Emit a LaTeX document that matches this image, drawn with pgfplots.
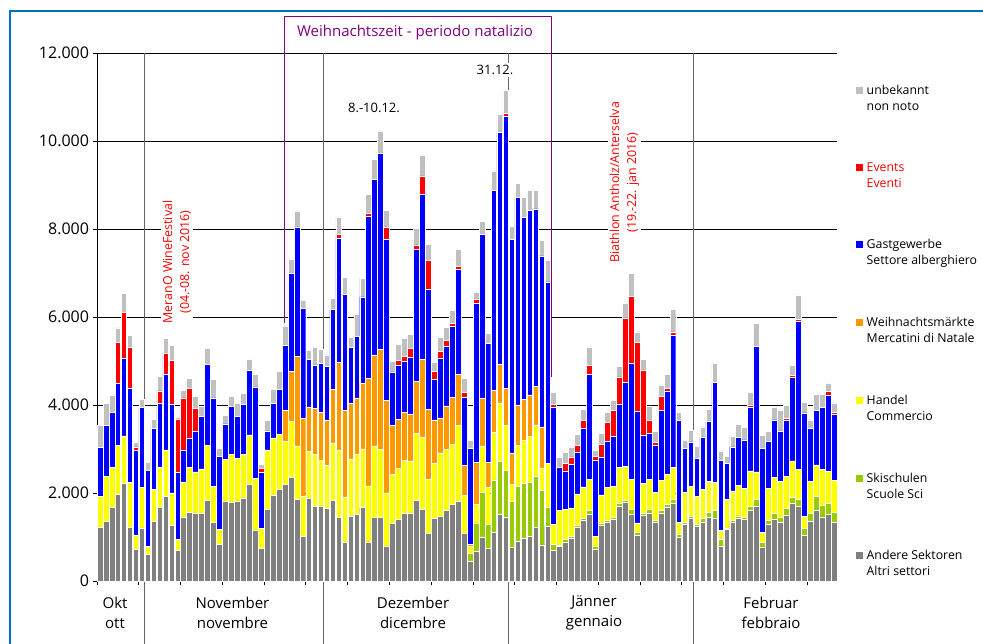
\documentclass[border=0pt]{standalone}
\usepackage{pgfplots}
\pgfplotsset{compat=1.18}
\usepackage{pgfplotstable}
\usepackage{fontspec}
\setmainfont{Open Sans}
\definecolor{cAndere}{RGB}{128,128,128}
\definecolor{cSki}{RGB}{153,204,0}
\definecolor{cHandel}{RGB}{255,255,0}
\definecolor{cMarkt}{RGB}{255,153,0}
\definecolor{cGast}{RGB}{0,0,255}
\definecolor{cEvent}{RGB}{255,0,0}
\definecolor{cUnb}{RGB}{192,192,192}
\definecolor{cPurple}{RGB}{128,0,128}
\definecolor{cFrame}{RGB}{0,112,192}
\definecolor{cSep}{RGB}{100,100,100}
% x a=Andere s=Ski h=Handel m=Markte g=Gast e=Events u=unbekannt
\pgfplotstableread{
x a s h m g e u
0 1220 0 700 0 1110 0 500
1 1360 0 1010 0 1170 0 490
2 1670 0 920 0 1250 0 390
3 1970 0 1120 0 1400 930 330
4 2220 0 1080 0 1770 1040 430
5 1220 0 1020 0 2140 930 280
6 720 0 330 0 1920 80 110
7 1210 0 920 0 1810 0 180
8 610 0 170 0 1730 0 200
9 1350 0 740 0 1380 0 210
10 1670 0 920 0 1440 290 330
11 1920 0 1060 0 1720 480 340
12 1270 0 730 0 2010 1010 330
13 690 0 260 0 1520 1210 50
14 1460 0 790 0 730 1180 170
15 1560 0 1020 0 670 1130 230
16 1550 0 930 0 920 520 280
17 1540 0 1010 0 1190 0 240
18 1840 0 1240 0 1850 0 360
19 1330 0 820 0 2010 0 420
20 830 0 340 0 1670 0 170
21 1820 0 950 0 800 0 190
22 1800 0 1070 0 1100 0 230
23 1820 0 970 0 950 0 290
24 1890 0 990 0 1140 0 250
25 2210 0 1110 0 1460 0 270
26 1160 0 1170 0 2080 0 280
27 740 0 450 0 1280 90 90
28 1630 0 1350 0 430 0 240
29 1960 0 1290 0 780 0 330
30 2080 0 1250 0 1020 0 420
31 2200 0 970 700 1490 0 420
32 2350 0 1270 1150 2220 0 330
33 1860 0 1210 2030 2950 0 360
34 1010 0 910 1780 2500 0 190
35 1890 0 1050 1020 1080 0 210
36 1690 0 1180 1050 990 0 400
37 1710 0 1030 1090 1110 0 320
38 1650 0 970 1040 1210 0 270
39 1840 0 1300 1210 1820 0 250
40 1440 0 1540 1990 2820 80 400
41 890 0 1020 1970 2630 0 390
42 1480 0 1290 1270 1270 0 230
43 1520 0 1350 1290 1400 0 510
44 1670 0 1330 1490 1970 0 420
45 890 0 1270 2450 3690 50 430
46 1440 0 1630 2070 3980 0 470
47 1440 0 1550 2270 4460 0 510
48 800 0 1200 2100 3660 290 380
49 1310 0 1120 1110 1210 0 250
50 1400 0 1160 1110 1240 110 360
51 1540 0 1200 1100 1150 110 420
52 1550 0 1180 1050 1300 210 320
53 1830 0 1520 1190 2990 110 380
54 1630 0 1640 1770 3750 420 460
55 1080 0 1230 1590 2730 650 380
56 1420 0 1250 990 920 190 210
57 1480 0 1430 800 1360 150 330
58 1610 0 1380 990 1350 140 300
59 1740 0 1370 1060 1620 60 300
60 1820 0 1710 1160 2400 60 380
61 1080 0 870 680 1550 100 330
62 440 190 150 50 2180 0 190
63 680 640 420 960 3610 100 150
64 990 1030 1050 1080 3730 0 290
65 740 550 840 560 2710 0 230
66 1110 1190 1080 950 4550 0 440
67 1520 1200 1330 870 5280 0 400
68 1460 1060 1020 830 6190 60 530
69 760 1050 380 720 4860 0 290
70 910 1240 930 920 4720 0 320
71 970 1250 970 930 4150 0 450
72 1010 1230 1040 950 4190 0 450
73 1220 1170 1140 890 4040 0 430
74 820 1240 510 930 3890 0 350
75 1240 430 1010 0 4120 0 500
76 710 130 440 0 2670 60 270
77 780 40 780 0 980 0 240
78 890 50 690 0 870 180 250
79 970 50 640 0 990 170 230
80 1220 40 720 0 940 170 240
81 1390 40 710 0 1340 170 260
82 1520 90 700 0 2380 210 420
83 720 60 230 0 1740 80 150
84 1270 50 640 0 860 290 240
85 1330 60 740 0 1050 420 240
86 1400 40 710 0 1140 580 230
87 1710 50 820 0 1430 630 230
88 1790 50 760 0 1920 1460 330
89 1520 110 680 0 2640 1520 520
90 1050 60 210 0 2540 1570 230
91 1490 50 680 0 1100 1480 230
92 1550 80 680 0 1050 300 320
93 1330 60 630 0 1060 70 250
94 1550 60 680 0 1580 320 250
95 1670 70 690 0 1890 50 330
96 1770 90 730 0 3000 70 510
97 990 80 260 0 2320 0 190
98 1290 50 680 0 990 0 180
99 1420 60 670 0 1010 0 270
100 1240 50 630 0 870 0 270
101 1330 90 660 0 1180 0 240
102 1450 110 700 0 1360 0 280
103 1420 190 630 0 2270 0 450
104 800 150 200 0 1590 0 220
105 1180 30 650 0 810 0 170
106 1330 40 680 0 1000 0 250
107 1420 60 700 0 1080 0 300
108 1400 50 660 0 1100 0 280
109 1610 80 810 0 1460 40 280
110 1710 140 630 0 2860 0 510
111 770 110 230 0 1910 0 290
112 1290 80 730 0 1070 0 230
113 1410 130 820 0 1300 0 300
114 1330 130 810 0 1140 0 480
115 1500 150 730 0 1270 50 290
116 1770 130 830 0 1900 40 240
117 1710 140 680 0 3370 50 550
118 1030 170 270 0 2350 0 250
119 1360 170 740 0 1200 0 190
120 1600 320 720 0 1240 0 370
121 1460 270 800 0 1420 0 290
122 1520 250 720 0 1740 80 190
123 1330 230 730 0 1490 60 210
}\data

\newcommand{\legentry}[5]{%
  \fill[#2] (856pt,#1pt) ++(0pt,1pt) rectangle ++(7pt,7pt);
  \node[anchor=base west, inner sep=0pt, text=#5, font=\fontsize{12.3}{15}\selectfont] at (866.5pt,#1pt) {#3};
  \node[anchor=base west, inner sep=0pt, text=#5, font=\fontsize{12.3}{15}\selectfont] at (866.5pt,#1pt-15.5pt) {#4};
}

\begin{document}
\begin{tikzpicture}
\useasboundingbox (0pt,0pt) rectangle (983pt,644pt);
% frame
\draw[cFrame, line width=2pt] (9.5pt,-5pt) -- (9.5pt,633pt) -- (990pt,633pt);
\begin{axis}[
  at={(97pt,63pt)}, anchor=south west,
  width=740pt, height=528pt, scale only axis,
  xmin=-0.5, xmax=123.5, ymin=0, ymax=12000,
  ybar stacked, bar width=0.95,
  axis x line=bottom, axis y line=left,
  axis line style={-, black, line width=0.8pt},
  ytick={0,2000,4000,6000,8000,10000,12000},
  yticklabels={0,2.000,4.000,6.000,8.000,10.000,12.000},
  scaled y ticks=false,
  xtick={-0.5,6.5,13.5,20.5,27.5,34.5,41.5,48.5,55.5,62.5,69.5,76.5,83.5,90.5,97.5,104.5,111.5,118.5},
  xticklabels={},
  tick align=outside,
  major tick length=4.5pt,
  tick style={black, line width=0.8pt},
  ymajorgrids, grid style={black, line width=0.8pt},
  yticklabel style={font=\fontsize{16}{19}\selectfont},
  clip=false,
  every axis plot/.append style={draw=white, line width=0.45pt},
]
\addplot[fill=cAndere] table[x=x,y=a]{\data};
\addplot[fill=cSki] table[x=x,y=s]{\data};
\addplot[fill=cHandel] table[x=x,y=h]{\data};
\addplot[fill=cMarkt] table[x=x,y=m]{\data};
\addplot[fill=cGast] table[x=x,y=g]{\data};
\addplot[fill=cEvent] table[x=x,y=e]{\data};
\addplot[fill=cUnb] table[x=x,y=u]{\data};
% month separators
\draw[cSep, line width=0.8pt] (axis cs:7.5,12000) -- (axis cs:7.5,-1440);
\draw[cSep, line width=0.8pt] (axis cs:37.5,12000) -- (axis cs:37.5,-1440);
\draw[cSep, line width=0.8pt] (axis cs:68.5,12000) -- (axis cs:68.5,-1440);
\draw[cSep, line width=0.8pt] (axis cs:99.5,12000) -- (axis cs:99.5,-1440);
\end{axis}
% month labels
\begin{scope}[every node/.style={align=center, font=\fontsize{15}{20}\selectfont, inner sep=0pt}]
\node at (115pt,31pt) {Okt\\ott};
\node at (232.5pt,31pt) {November\\novembre};
\node at (413pt,31pt) {Dezember\\dicembre};
\node at (594pt,31pt) {Jänner\\gennaio};
\node at (771pt,31pt) {Februar\\febbraio};
\end{scope}
% Christmas box
\draw[cPurple, line width=0.8pt] (284pt,321pt) -- (284pt,628pt) -- (551pt,628pt) -- (551pt,267pt);
\node[text=cPurple, font=\fontsize{15}{18}\selectfont] at (415pt,611pt) {Weihnachtszeit - periodo natalizio};
% annotations
\node[font=\fontsize{13}{16}\selectfont] at (374pt,536pt) {8.-10.12.};
\node[fill=white, inner sep=2pt, font=\fontsize{13}{16}\selectfont] at (495pt,574pt) {31.12.};
\node[rotate=90, fill=white, text=red, align=center, inner sep=2pt, font=\fontsize{12.4}{17}\selectfont] at (177pt,382pt) {MeranO WineFestival\\(04.-08. nov 2016)};
\node[rotate=90, fill=white, text=red, align=center, inner sep=2pt, font=\fontsize{12.4}{17}\selectfont] at (624.5pt,461.5pt) {Biathlon Antholz/Anterselva\\(19.-22. jan 2016)};
% legend
\legentry{549}{cUnb}{unbekannt}{non noto}{black}
\legentry{472}{cEvent}{Events}{Eventi}{red}
\legentry{395}{cGast}{Gastgewerbe}{Settore alberghiero}{black}
\legentry{317}{cMarkt}{Weihnachtsmärkte}{Mercatini di Natale}{black}
\legentry{239}{cHandel}{Handel}{Commercio}{black}
\legentry{161}{cSki}{Skischulen}{Scuole Sci}{black}
\legentry{84}{cAndere}{Andere Sektoren}{Altri settori}{black}
\end{tikzpicture}
\end{document}
